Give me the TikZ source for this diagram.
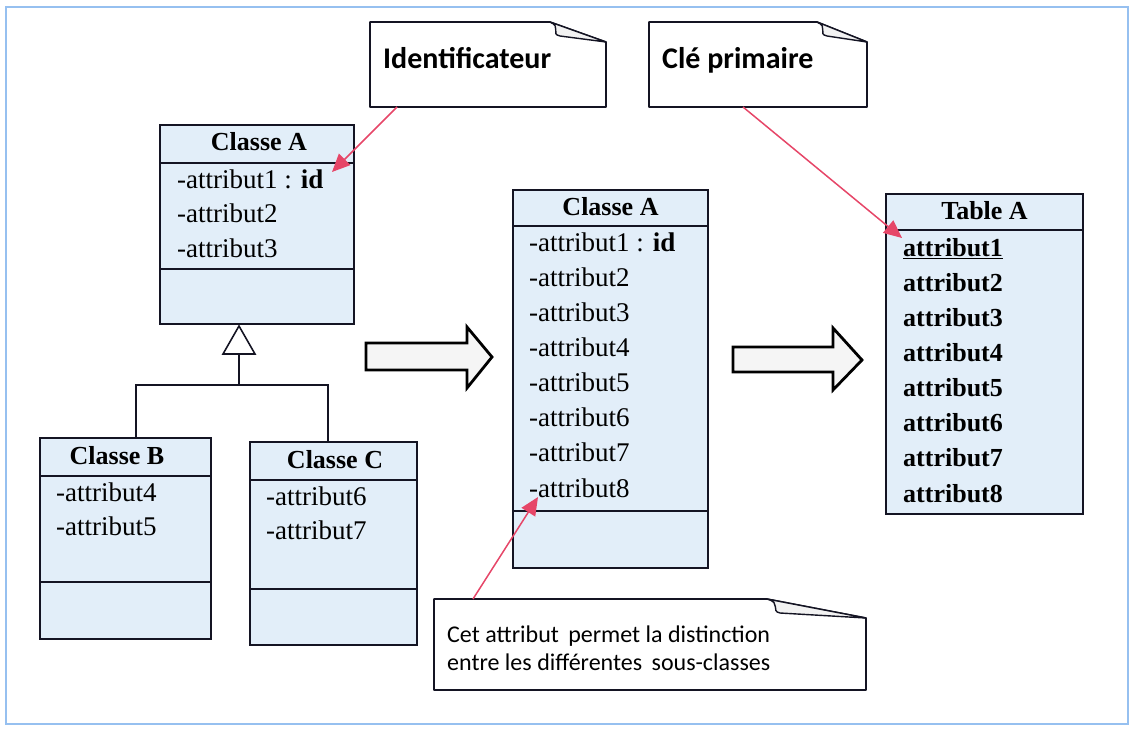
\documentclass[tikz,border=0pt]{standalone}
\usepackage{fontspec}
\setmainfont{Liberation Serif}
\newfontfamily\notefont{Carlito}
\usetikzlibrary{arrows.meta,calc}

\definecolor{classfill}{RGB}{226,238,249}
\definecolor{framecol}{RGB}{150,192,240}
\definecolor{linkred}{RGB}{230,70,104}
\definecolor{ink}{RGB}{20,20,35}

\begin{document}
\begin{tikzpicture}[x=1pt,y=-1pt,
  box/.style={draw=ink, line width=1.8pt, fill=classfill, inner sep=0pt, outer sep=0pt, anchor=north west},
  divider/.style={draw=ink, line width=1.8pt},
  attr/.style={anchor=base west, inner sep=0pt, font=\fontsize{27}{30}\selectfont},
  battr/.style={anchor=base west, inner sep=0pt, font=\fontsize{26}{30}\selectfont\bfseries},
  head/.style={anchor=base, inner sep=0pt, font=\fontsize{26}{30}\selectfont\bfseries},
  notearea/.style={inner sep=0pt, outer sep=0pt, anchor=north west},
  noteline/.style={draw=ink, line width=1.6pt, fill=white, line join=round},
  curl/.style={draw=ink, line width=1.4pt, fill=gray!10, line join=round},
  notetext/.style={anchor=base west, inner sep=0pt, font=\notefont\fontsize{30}{34}\selectfont\bfseries},
  smallnote/.style={anchor=base west, inner sep=0pt, font=\notefont\fontsize{24}{28}\selectfont},
  link/.style={draw=linkred, line width=1.5pt, -{Triangle[length=18pt,width=16pt]}},
  gen/.style={draw=ink, line width=1.6pt},
  bigarrow/.style={draw=black, line width=2.8pt, fill=gray!8, line join=miter}
]
\useasboundingbox (0,0) rectangle (1134,728);

% outer frame
\draw[framecol, line width=2pt] (6,7) rectangle (1128,724);

% ---------- notes (rectangles with a curled corner) ----------
\node[notearea, minimum width=236pt, minimum height=85pt] (nid) at (370,22) {};
\path[noteline] (nid.north west) -- ($(nid.north east)+(-56,0)$) -- ($(nid.north east)+(0,20)$)
  -- (nid.south east) -- (nid.south west) -- cycle;
\path[curl] ($(nid.north east)+(-56,0)$) .. controls ($(nid.north east)+(-44,5)$) and ($(nid.north east)+(-56,12)$) .. ($(nid.north east)+(-46,14)$) -- ($(nid.north east)+(0,20)$) -- cycle;
\node[notetext] (nid-t) at (383,68) {Identificateur};

\node[notearea, minimum width=218pt, minimum height=85pt] (npk) at (649,22) {};
\path[noteline] (npk.north west) -- ($(npk.north east)+(-50,0)$) -- ($(npk.north east)+(0,20)$)
  -- (npk.south east) -- (npk.south west) -- cycle;
\path[curl] ($(npk.north east)+(-50,0)$) .. controls ($(npk.north east)+(-38,5)$) and ($(npk.north east)+(-50,12)$) .. ($(npk.north east)+(-40,14)$) -- ($(npk.north east)+(0,20)$) -- cycle;
\node[notetext] (npk-t) at (662,68) {Clé primaire};

\node[notearea, minimum width=432pt, minimum height=91pt] (ndisc) at (434,599) {};
\path[noteline] (ndisc.north west) -- ($(ndisc.north east)+(-99,0)$) -- ($(ndisc.north east)+(0,19)$)
  -- (ndisc.south east) -- (ndisc.south west) -- cycle;
\path[curl] ($(ndisc.north east)+(-99,0)$) .. controls ($(ndisc.north east)+(-84,4)$) and ($(ndisc.north east)+(-96,12)$) .. ($(ndisc.north east)+(-86,14)$) -- ($(ndisc.north east)+(0,19)$) -- cycle;
\node[smallnote] (ndisc-t1) at (447,642) {Cet attribut\, permet la distinction};
\node[smallnote] (ndisc-t2) at (447,670) {entre les différentes\, sous-classes};

% ---------- left class A ----------
\node[box, minimum width=194pt, minimum height=199pt] (ca) at (160,125) {};
\draw[divider] (ca.west |- 0,163) -- (ca.east |- 0,163);
\draw[divider] (ca.west |- 0,269) -- (ca.east |- 0,269);
\node[head] (ca-t) at (259,150) {Classe A};
\node[attr] (ca-1) at (177,188) {-attribut1 : \textbf{id}};
\node[attr] (ca-2) at (177,222) {-attribut2};
\node[attr] (ca-3) at (177,257) {-attribut3};

% ---------- class B ----------
\node[box, minimum width=171pt, minimum height=201pt] (cb) at (40,438) {};
\draw[divider] (cb.west |- 0,476) -- (cb.east |- 0,476);
\draw[divider] (cb.west |- 0,582) -- (cb.east |- 0,582);
\node[head] (cb-t) at (117,464) {Classe B};
\node[attr] (cb-4) at (56,501) {-attribut4};
\node[attr] (cb-5) at (56,535) {-attribut5};

% ---------- class C ----------
\node[box, minimum width=167pt, minimum height=203pt] (cc) at (250,442) {};
\draw[divider] (cc.west |- 0,480) -- (cc.east |- 0,480);
\draw[divider] (cc.west |- 0,589) -- (cc.east |- 0,589);
\node[head] (cc-t) at (335,468) {Classe C};
\node[attr] (cc-6) at (266,505) {-attribut6};
\node[attr] (cc-7) at (266,539) {-attribut7};

% ---------- generalisation ----------
\coordinate (apex) at (239,326);
\coordinate (joint) at (239,385);
\draw[gen] (apex |- 0,354) -- (joint);
\draw[gen] (cb.north -| 136,0) |- (joint) -| (cc.north -| 328,0);
\draw[gen, fill=white] (apex) -- (255,354) -- (223,354) -- cycle;

% ---------- merged class A ----------
\node[box, minimum width=195pt, minimum height=378pt] (cm) at (513,190) {};
\draw[divider] (cm.west |- 0,226) -- (cm.east |- 0,226);
\draw[divider] (cm.west |- 0,511) -- (cm.east |- 0,511);
\node[head] (cm-t) at (610.5,215) {Classe A};
\node[attr] (cm-1) at (529,251.0) {-attribut1 : \textbf{id}};
\node[attr] (cm-2) at (529,286.1) {-attribut2};
\node[attr] (cm-3) at (529,321.3) {-attribut3};
\node[attr] (cm-4) at (529,356.4) {-attribut4};
\node[attr] (cm-5) at (529,391.6) {-attribut5};
\node[attr] (cm-6) at (529,426.7) {-attribut6};
\node[attr] (cm-7) at (529,461.9) {-attribut7};
\node[attr] (cm-8) at (529,497.0) {-attribut8};

% ---------- table A ----------
\node[box, minimum width=197pt, minimum height=320pt] (ta) at (886,194) {};
\draw[divider] (ta.west |- 0,230) -- (ta.east |- 0,230);
\node[head] (ta-t) at (984.5,219) {Table A};
\node[battr] (ta-1) at (903,256.0) {\underline{attribut1}};
\node[battr] (ta-2) at (903,291.1) {attribut2};
\node[battr] (ta-3) at (903,326.3) {attribut3};
\node[battr] (ta-4) at (903,361.4) {attribut4};
\node[battr] (ta-5) at (903,396.6) {attribut5};
\node[battr] (ta-6) at (903,431.7) {attribut6};
\node[battr] (ta-7) at (903,466.9) {attribut7};
\node[battr] (ta-8) at (903,502.0) {attribut8};

% ---------- transformation arrows ----------
\draw[bigarrow] (366,343) -- (467,343) -- (467,327) -- (492,357) -- (467,388) -- (467,370) -- (366,370) -- cycle;
\draw[bigarrow] (733,347) -- (833,347) -- (833,328) -- (862,360) -- (833,390) -- (833,372) -- (733,372) -- cycle;

% ---------- note links ----------
\coordinate (idpt) at (332,172);
\coordinate (pkpt) at (902,238);
\coordinate (discpt) at (538,497);
\draw[link] ($(nid.south west)+(27,0)$) -- (idpt);
\draw[link] ($(npk.south west)+(94,0)$) -- (pkpt);
\draw[link] ($(ndisc.north west)+(39,0)$) -- (discpt);
\end{tikzpicture}
\end{document}
